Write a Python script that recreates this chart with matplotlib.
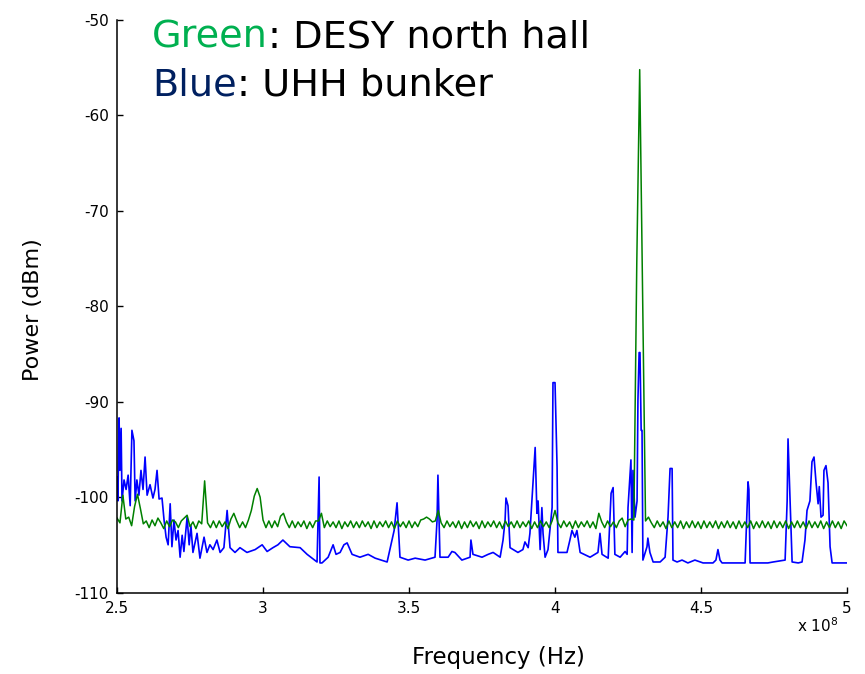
import matplotlib
matplotlib.use('Agg')
import matplotlib.pyplot as plt
import numpy as np

plt.rcParams['font.family'] = ['DejaVu Sans']
plt.rcParams['axes.unicode_minus'] = False

# frequency in units of 1e8 Hz, power in dBm
# blue: UHH bunker
blue_freq = [
    2.500, 2.503, 2.507, 2.510, 2.514, 2.517, 2.524, 2.531, 2.538, 2.545,
    2.551, 2.558, 2.562, 2.568, 2.575, 2.582, 2.589, 2.596, 2.603, 2.613,
    2.623, 2.630, 2.637, 2.644, 2.654, 2.661, 2.668, 2.675, 2.682, 2.688,
    2.695, 2.702, 2.709, 2.716, 2.723, 2.729, 2.740, 2.747, 2.753, 2.760,
    2.774, 2.784, 2.798, 2.808, 2.818, 2.829, 2.842, 2.853, 2.866, 2.877,
    2.887, 2.904, 2.921, 2.945, 2.973, 2.997, 3.014, 3.034, 3.051, 3.068,
    3.092, 3.127, 3.151, 3.185, 3.192, 3.195, 3.202, 3.223, 3.240, 3.250,
    3.264, 3.277, 3.288, 3.305, 3.332, 3.360, 3.384, 3.425, 3.449, 3.459,
    3.469, 3.497, 3.521, 3.555, 3.589, 3.596, 3.599, 3.606, 3.634, 3.647,
    3.657, 3.681, 3.709, 3.712, 3.719, 3.750, 3.771, 3.788, 3.812, 3.822,
    3.829, 3.832, 3.839, 3.846, 3.873, 3.890, 3.897, 3.908, 3.914, 3.925,
    3.932, 3.938, 3.942, 3.949, 3.955, 3.959, 3.966, 3.976, 3.990, 3.993,
    4.000, 4.007, 4.010, 4.041, 4.051, 4.058, 4.068, 4.075, 4.086, 4.120,
    4.147, 4.154, 4.161, 4.182, 4.192, 4.199, 4.205, 4.223, 4.240, 4.247,
    4.250, 4.260, 4.264, 4.267, 4.274, 4.281, 4.284, 4.288, 4.291, 4.295,
    4.298, 4.301, 4.315, 4.318, 4.325, 4.336, 4.360, 4.377, 4.387, 4.394,
    4.401, 4.404, 4.418, 4.435, 4.455, 4.479, 4.507, 4.541, 4.551, 4.558,
    4.565, 4.572, 4.599, 4.651, 4.658, 4.661, 4.664, 4.668, 4.685, 4.729,
    4.747, 4.788, 4.795, 4.798, 4.805, 4.812, 4.833, 4.846, 4.856, 4.863,
    4.873, 4.880, 4.887, 4.894, 4.901, 4.905, 4.911, 4.918, 4.921, 4.928,
    4.935, 4.942, 4.949, 5.000,
]
blue_dbm = [
    -97.9, -100.4, -91.7, -97.2, -92.8, -100.4, -98.2, -99.2, -97.7, -100.9,
    -93.0, -94.1, -100.4, -98.2, -99.8, -97.2, -99.2, -95.8, -99.8, -98.7,
    -100.1, -99.2, -97.2, -100.2, -100.1, -102.4, -104.2, -105.0, -100.7, -105.2,
    -102.4, -104.5, -103.5, -106.3, -104.0, -105.7, -102.1, -105.0, -103.0, -105.8,
    -103.8, -106.4, -104.2, -105.8, -105.0, -105.5, -104.5, -105.8, -105.3, -101.4,
    -105.3, -105.8, -105.3, -105.8, -105.5, -105.0, -105.7, -105.3, -105.0, -104.5,
    -105.2, -105.3, -106.0, -106.8, -97.9, -106.9, -106.9, -106.3, -105.0, -106.0,
    -105.8, -105.0, -104.8, -106.0, -106.3, -106.0, -106.4, -106.8, -103.5, -100.6,
    -106.3, -106.6, -106.4, -106.6, -106.3, -102.4, -97.7, -106.3, -106.3, -105.7,
    -105.8, -106.6, -106.3, -104.5, -106.0, -106.3, -106.0, -105.8, -106.3, -104.5,
    -102.4, -100.1, -100.9, -105.3, -105.8, -105.5, -104.7, -105.3, -103.8, -98.2,
    -94.8, -101.7, -100.4, -105.5, -101.1, -103.8, -106.3, -105.5, -101.1, -88.0,
    -88.0, -96.8, -105.8, -105.8, -104.5, -103.5, -104.2, -103.5, -105.8, -106.3,
    -105.8, -103.8, -106.0, -106.4, -99.6, -99.0, -106.0, -106.3, -105.7, -106.0,
    -101.1, -96.1, -105.8, -97.2, -102.1, -100.4, -89.8, -84.85, -84.85, -93.0,
    -93.0, -106.6, -105.2, -104.3, -105.8, -106.8, -106.8, -106.3, -102.1, -97.0,
    -97.0, -106.6, -106.8, -106.6, -106.9, -106.6, -106.9, -106.9, -106.6, -105.5,
    -106.6, -106.9, -106.9, -106.9, -101.1, -98.4, -99.2, -106.9, -106.9, -106.9,
    -106.8, -106.6, -100.4, -93.9, -100.4, -106.8, -106.9, -106.8, -104.5, -101.4,
    -100.4, -96.3, -95.8, -98.5, -100.7, -98.9, -102.1, -101.9, -97.2, -96.7,
    -98.5, -105.2, -106.9, -106.9,
]

# green: DESY north hall, sampled every 0.01e8 Hz from 2.50 to 5.00
green_freq = np.round(np.arange(2.50, 5.0001, 0.01), 2)
green_dbm = [
    -102.2, -102.7, -99.8, -102.3, -102.1, -103.0, -101.0, -99.7, -101.2, -102.8,
    -102.5, -103.2, -102.4, -103.0, -102.2, -102.7, -103.3, -102.5, -103.1, -102.4,
    -102.6, -103.2, -102.5, -102.2, -101.9, -103.1, -102.6, -103.3, -102.5, -102.8,
    -98.3, -102.7, -103.2, -102.5, -103.2, -102.5, -103.1, -102.6, -103.3, -102.3,
    -101.7, -102.5, -103.2, -102.6, -103.2, -102.4, -101.4, -99.9, -99.1, -100.0,
    -102.4, -103.2, -102.5, -103.2, -102.5, -103.1, -102.0, -101.7, -102.6, -103.2,
    -102.5, -103.2, -102.6, -103.1, -102.5, -103.3, -102.6, -103.2, -102.5, -102.5,
    -101.7, -103.2, -102.5, -103.1, -102.6, -103.2, -102.5, -103.3, -102.6, -103.1,
    -102.5, -103.2, -102.6, -103.2, -102.5, -103.1, -102.6, -103.3, -102.5, -103.2,
    -102.6, -103.1, -102.5, -103.2, -102.6, -103.3, -102.5, -103.1, -102.6, -103.2,
    -102.5, -103.2, -102.6, -103.1, -102.4, -102.3, -102.1, -102.3, -102.6, -102.5,
    -101.4, -102.7, -103.2, -102.5, -103.1, -102.6, -103.2, -102.5, -103.3, -102.6,
    -103.2, -102.5, -103.1, -102.6, -103.3, -102.5, -103.2, -102.6, -103.1, -102.5,
    -103.2, -102.6, -103.3, -102.5, -103.1, -102.6, -103.2, -102.5, -103.2, -102.6,
    -103.1, -102.5, -103.3, -102.6, -103.2, -102.5, -103.1, -102.6, -103.2, -102.5,
    -101.4, -102.7, -103.2, -102.5, -103.1, -102.6, -103.3, -102.5, -103.2, -102.6,
    -103.1, -102.5, -103.2, -102.6, -103.3, -101.7, -102.6, -103.2, -102.5, -103.1,
    -102.6, -103.2, -102.5, -102.2, -103.1, -102.4, -102.3, -102.4, -75.5, -55.2,
    -78.5, -102.5, -102.1, -102.7, -103.2, -102.5, -103.1, -102.6, -103.3, -102.5,
    -103.2, -102.6, -103.2, -102.5, -103.3, -102.6, -103.2, -102.5, -103.2, -102.6,
    -103.3, -102.5, -103.2, -102.6, -103.2, -102.5, -103.3, -102.6, -103.2, -102.5,
    -103.2, -102.6, -103.3, -102.5, -103.2, -102.6, -103.2, -102.5, -103.3, -102.6,
    -103.2, -102.5, -103.2, -102.6, -103.3, -102.5, -103.2, -102.6, -103.2, -102.5,
    -103.3, -102.6, -103.2, -102.5, -103.2, -102.6, -103.3, -102.5, -103.2, -102.6,
    -103.2, -102.5, -103.3, -102.6, -103.2, -102.5, -103.2, -102.6, -103.3, -102.5,
    -103.0,
]
assert len(blue_freq) == len(blue_dbm)
assert len(green_freq) == len(green_dbm)

x_ticks = [2.5, 3, 3.5, 4, 4.5, 5]
x_ticklabels = ['2.5', '3', '3.5', '4', '4.5', '5']
y_ticks = [-110, -100, -90, -80, -70, -60, -50]

fig = plt.figure(figsize=(8.65, 6.74), dpi=100)
ax = fig.add_axes([0.1353, 0.1209, 0.8439, 0.8494])

ax.plot(blue_freq, blue_dbm, color='#0000ff', linewidth=1.2)
ax.plot(green_freq, green_dbm, color='#008000', linewidth=1.1)

ax.set_xlim(2.5, 5.0)
ax.set_ylim(-110, -50)
ax.set_xticks(x_ticks)
ax.set_xticklabels(x_ticklabels)
ax.set_yticks(y_ticks)
ax.tick_params(direction='in', length=4, width=1, labelsize=11, pad=6)
ax.spines['top'].set_visible(False)
ax.spines['right'].set_visible(False)
for s in ['left', 'bottom']:
    ax.spines[s].set_linewidth(1.1)

ax.set_xlabel('Frequency (Hz)', fontsize=16.5, va='center')
ax.xaxis.set_label_coords(0.523, -0.113)
ax.set_ylabel('Power (dBm)', fontsize=16, va='center')
ax.yaxis.set_label_coords(-0.115, 0.495)
fig.text(0.921, 0.072, r'x 10$^{8}$', fontsize=11, ha='left', va='center')

# coloured caption at the top left
t1 = fig.text(0.176, 0.929, 'Green', color='#00b050', fontsize=27.5, va='baseline')
fig.canvas.draw()
ax.annotate(': DESY north hall', xy=(1, 0), xycoords=t1, va='bottom',
            fontsize=27.5, color='black')
t2 = fig.text(0.176, 0.858, 'Blue', color='#002060', fontsize=27.5, va='baseline')
ax.annotate(': UHH bunker', xy=(1, 0), xycoords=t2, va='bottom',
            fontsize=27.5, color='black')

fig.savefig('out.png', dpi=100)
plt.close()
